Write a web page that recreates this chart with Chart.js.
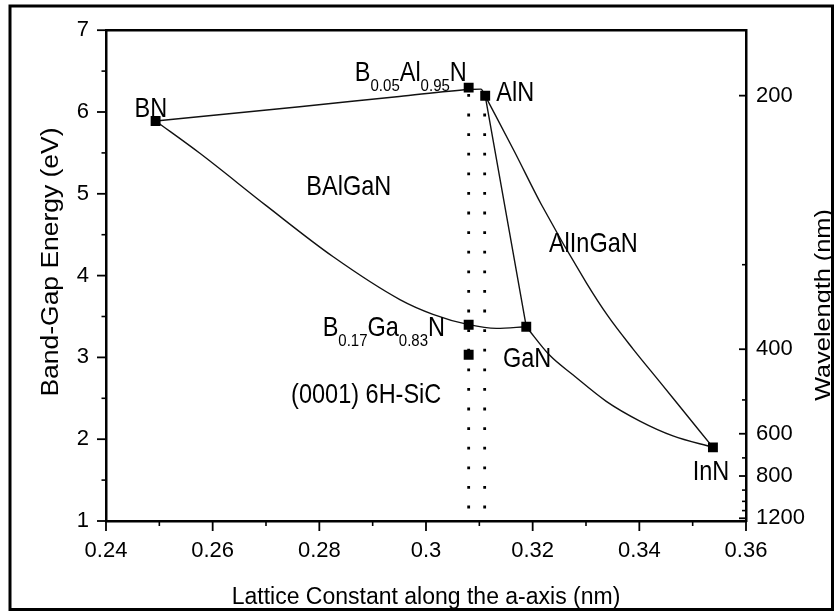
<!DOCTYPE html>
<html><head><meta charset="utf-8">
<script src="https://cdn.jsdelivr.net/npm/chart.js@4.4.0/dist/chart.umd.min.js"></script>
<style>html,body{margin:0;padding:0;background:#fff;}canvas{display:block;}</style>
</head><body>
<canvas id="c" width="834" height="612"></canvas>
<script>
// ---- data ----
const compoundNames = ['BN', 'B0.05Al0.95N', 'AlN', 'B0.17Ga0.83N', '(0001) 6H-SiC', 'GaN', 'InN'];
const compoundLattice = [0.2493, 0.308, 0.3111, 0.308, 0.308, 0.3188, 0.3538];
const compoundGap = [5.89, 6.298, 6.198, 3.40, 3.033, 3.375, 1.90];

// BN - B0.05Al0.95N - AlN boundary
const bnAlnLattice = [0.2493, 0.2763, 0.295, 0.308, 0.3103, 0.3111];
const bnAlnGap = [5.89, 6.065, 6.19, 6.275, 6.28, 6.198];
// BN - B0.17Ga0.83N - GaN boundary
const bnGanLattice = [0.2493, 0.2576, 0.2701, 0.2826, 0.2951, 0.3013, 0.308, 0.3132, 0.3188];
const bnGanGap = [5.89, 5.495, 4.852, 4.23, 3.707, 3.527, 3.40, 3.355, 3.375];
// AlN - GaN boundary
const alnGanLattice = [0.3111, 0.3188];
const alnGanGap = [6.198, 3.375];
// AlN - InN boundary
const alnInnLattice = [0.3111, 0.3166, 0.3216, 0.3301, 0.3341, 0.3388, 0.3438, 0.3488, 0.3538];
const alnInnGap = [6.198, 5.514, 4.872, 3.908, 3.507, 3.105, 2.704, 2.302, 1.90];
// GaN - InN boundary
const ganInnLattice = [0.3188, 0.3232, 0.3276, 0.3338, 0.3401, 0.3463, 0.3538];
const ganInnGap = [3.375, 3.025, 2.784, 2.463, 2.222, 2.041, 1.90];

// lattice-matched lines (6H-SiC / AlN)
const matchedLattice = [0.308, 0.311];
const matchedGapRange = [6.22, 1];

// axes
const xTickValues = [0.24, 0.26, 0.28, 0.30, 0.32, 0.34, 0.36];
const xTickLabels = ['0.24', '0.26', '0.28', '0.3', '0.32', '0.34', '0.36'];
const yTickValues = [1, 2, 3, 4, 5, 6, 7];
const yTickLabels = ['1', '2', '3', '4', '5', '6', '7'];
const wavelengthTicks = [200, 400, 600, 800, 1200];
const wavelengthMinorTicks = [300, 500, 700, 900, 1000, 1100];
const HC = 1240; // eV·nm

const xTitle = 'Lattice Constant along the a-axis (nm)';
const yTitle = 'Band-Gap Energy (eV)';
const yRTitle = 'Wavelength (nm)';

// text annotations: [text, isSubscript] parts, anchored (left, baseline) in data units
const annotations = [
  { parts: [['BN', 0]], x: 0.24536, y: 5.936 },
  { parts: [['B', 0], ['0.05', 1], ['Al', 0], ['0.95', 1], ['N', 0]], x: 0.28666, y: 6.378 },
  { parts: [['AlN', 0]], x: 0.31319, y: 6.137 },
  { parts: [['BAlGaN', 0]], x: 0.27756, y: 4.984 },
  { parts: [['AlInGaN', 0]], x: 0.32305, y: 4.29 },
  { parts: [['B', 0], ['0.17', 1], ['Ga', 0], ['0.83', 1], ['N', 0]], x: 0.28062, y: 3.258 },
  { parts: [['GaN', 0]], x: 0.31442, y: 2.884 },
  { parts: [['(0001) 6H-SiC', 0]], x: 0.27471, y: 2.439 },
  { parts: [['InN', 0]], x: 0.35, y: 1.499 }
];

// ---- chart ----
const FONT = "'Liberation Sans', Arial, Helvetica, sans-serif";
const pts = (xs, ys) => xs.map((x, i) => ({ x: x, y: ys[i] }));
const curve = (xs, ys) => ({
  data: pts(xs, ys), showLine: true, pointRadius: 0, borderColor: '#111',
  borderWidth: 1.4, cubicInterpolationMode: 'monotone', fill: false, order: 1
});
const dotted = (lx) => ({
  data: matchedGapRange.map(g => ({ x: lx, y: g })), showLine: true, pointRadius: 0,
  borderColor: '#000', borderWidth: 2.8, borderDash: [2.8, 16.8], borderCapStyle: 'butt',
  fill: false, order: 2
});

const decor = {
  id: 'decor',
  afterDraw(chart) {
    const ctx = chart.ctx, ca = chart.chartArea;
    const sx = chart.scales.x, sy = chart.scales.y;
    ctx.save();
    ctx.strokeStyle = '#000';
    ctx.fillStyle = '#000';
    const seg = (x1, y1, x2, y2, w) => { ctx.lineWidth = w; ctx.beginPath(); ctx.moveTo(x1, y1); ctx.lineTo(x2, y2); ctx.stroke(); };
    // left ticks (outward)
    yTickValues.forEach(v => { const p = sy.getPixelForValue(v); seg(ca.left - 9, p, ca.left, p, 1.8); });
    yTickValues.slice(0, -1).forEach(v => { const p = sy.getPixelForValue(v + 0.5); seg(ca.left - 4.5, p, ca.left, p, 1.6); });
    // bottom ticks (outward)
    xTickValues.forEach(v => { const p = sx.getPixelForValue(v); seg(p, ca.bottom, p, ca.bottom + 10, 1.8); });
    xTickValues.slice(0, -1).forEach(v => { const p = sx.getPixelForValue(v + 0.01); seg(p, ca.bottom, p, ca.bottom + 5, 1.6); });
    // right ticks (inward)
    wavelengthTicks.forEach(l => { const p = sy.getPixelForValue(HC / l); seg(ca.right - 7, p, ca.right, p, 1.8); });
    wavelengthMinorTicks.forEach(l => { const p = sy.getPixelForValue(HC / l); seg(ca.right - 4, p, ca.right, p, 1.6); });
    // top frame line
    seg(ca.left - 1, ca.top, ca.right + 1, ca.top, 2.6);

    // annotations
    annotations.forEach(a => {
      const px = sx.getPixelForValue(a.x), py = sy.getPixelForValue(a.y);
      ctx.save();
      ctx.translate(px, py);
      ctx.scale(1, 1.15);
      ctx.textBaseline = 'alphabetic';
      ctx.textAlign = 'left';
      let cx = 0;
      a.parts.forEach(([t, sub]) => {
        ctx.font = (sub ? '15px ' : '23.5px ') + FONT;
        ctx.fillText(t, cx, sub ? 8.5 : 0);
        cx += ctx.measureText(t).width;
      });
      ctx.restore();
    });

    // axis titles
    ctx.textAlign = 'center';
    ctx.textBaseline = 'alphabetic';
    ctx.font = '23px ' + FONT;
    ctx.save(); ctx.translate((ca.left + ca.right) / 2, 604); ctx.fillText(xTitle, 0, 0); ctx.restore();
    ctx.save(); ctx.translate(58, 262); ctx.scale(1, 1.15); ctx.rotate(-Math.PI / 2); ctx.fillText(yTitle, 0, 0); ctx.restore();
    ctx.save(); ctx.translate(830, 305); ctx.scale(1, 1.15); ctx.rotate(-Math.PI / 2); ctx.font = '22px ' + FONT; ctx.fillText(yRTitle, 0, 0); ctx.restore();

    // outer frame
    ctx.lineWidth = 3;
    ctx.strokeRect(10, 6, 822.5, 603.5);
    ctx.restore();
  }
};

new Chart(document.getElementById('c'), {
  type: 'scatter',
  data: {
    datasets: [
      {
        data: pts(compoundLattice, compoundGap), pointStyle: 'rect', pointRadius: 7,
        backgroundColor: '#000', borderColor: '#000', borderWidth: 0, showLine: false, order: 0
      },
      curve(bnAlnLattice, bnAlnGap),
      curve(bnGanLattice, bnGanGap),
      curve(alnGanLattice, alnGanGap),
      curve(alnInnLattice, alnInnGap),
      curve(ganInnLattice, ganInnGap),
      dotted(matchedLattice[0]),
      dotted(matchedLattice[1])
    ]
  },
  options: {
    responsive: false,
    animation: false,
    devicePixelRatio: 1,
    layout: { padding: { top: 23, left: 0, right: 0, bottom: 0 } },
    plugins: { legend: { display: false }, tooltip: { enabled: false } },
    scales: {
      x: {
        type: 'linear', position: 'bottom', min: 0.24, max: 0.36,
        afterBuildTicks: s => { s.ticks = xTickValues.map(v => ({ value: v })); },
        afterFit: s => { s.height = 91; },
        grid: { display: false, drawTicks: false, tickLength: 0 },
        border: { display: true, color: '#000', width: 2.5 },
        ticks: { autoSkip: false, maxRotation: 0, padding: 17, color: '#000', font: { family: FONT, size: 22 },
          callback: (v, i) => xTickLabels[i] },
        title: { display: false }
      },
      y: {
        type: 'linear', position: 'left', min: 1, max: 7,
        afterBuildTicks: s => { s.ticks = yTickValues.map(v => ({ value: v })); },
        afterFit: s => { s.width = 106; },
        grid: { display: false, drawTicks: false, tickLength: 0 },
        border: { display: true, color: '#000', width: 2.5 },
        ticks: { autoSkip: false, padding: 17, color: '#000', font: { family: FONT, size: 22 },
          callback: (v, i) => yTickLabels[i] },
        title: { display: false }
      },
      yR: {
        type: 'linear', position: 'right', min: 1, max: 7,
        afterBuildTicks: s => { s.ticks = wavelengthTicks.map(l => ({ value: HC / l })); },
        afterFit: s => { s.width = 88; },
        grid: { display: false, drawTicks: false, tickLength: 0 },
        border: { display: true, color: '#000', width: 2.5 },
        ticks: { autoSkip: false, padding: 10, color: '#000', font: { family: FONT, size: 22 },
          callback: (v, i) => String(wavelengthTicks[i]) },
        title: { display: false }
      }
    }
  },
  plugins: [decor]
});
</script>
</body></html>
